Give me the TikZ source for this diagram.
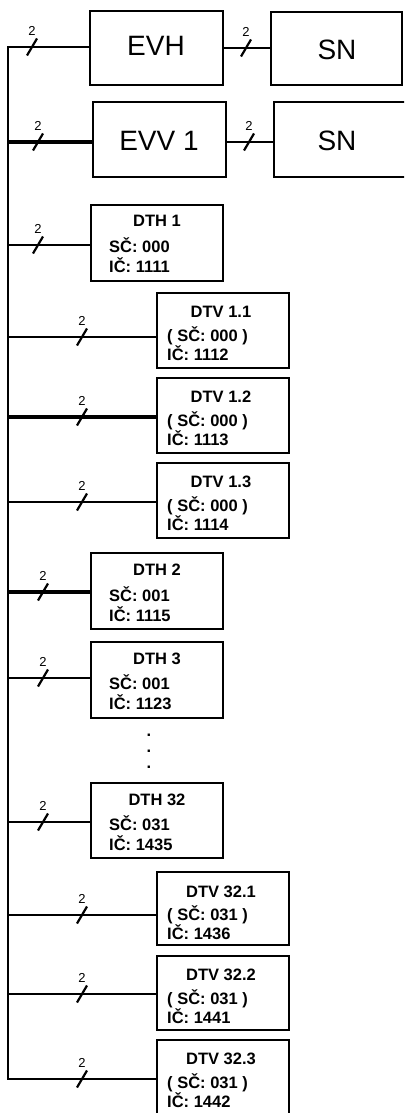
\documentclass[tikz,border=0pt]{standalone}
\usepackage{fontspec}
\setmainfont{Liberation Sans}
\begin{document}
\begin{tikzpicture}[x=1pt,y=-1pt,
  box/.style={draw, line width=2.4pt, rectangle, inner sep=0pt, outer sep=0pt, anchor=north west},
  big/.style={font=\fontsize{28}{30}\selectfont, anchor=base, inner sep=0pt},
  ttl/.style={font=\bfseries\fontsize{16.5}{18}\selectfont, anchor=base, inner sep=0pt},
  lin/.style={font=\bfseries\fontsize{16.5}{18}\selectfont, anchor=base west, inner sep=0pt},
  lbl/.style={font=\fontsize{13}{14}\selectfont, inner sep=0pt},
  wire/.style={line width=2.8pt},
  thinwire/.style={line width=1.8pt},
  thickwire/.style={line width=3.6pt},
  buswire/.style={line width=2.7pt},
  bundle/.pic={\draw[line width=2.2pt] (-5,8.5) -- (5,-8.5); \node[lbl] (-n) at (0,-16) {2};}
]
\useasboundingbox (0,0) rectangle (404,1113);
\begin{scope}
\clip (0,0) rectangle (404,1113);
% boxes
\node[box, minimum width=133pt, minimum height=74pt] (evh) at (90,11) {};
\node[box, minimum width=131pt, minimum height=73pt] (sn1) at (271,12) {};
\node[box, minimum width=133pt, minimum height=75pt] (evv) at (93,102) {};
\node[box, minimum width=133pt, minimum height=75pt] (sn2) at (274,102) {};
\node[box, minimum width=132pt, minimum height=76pt] (dth1) at (91,205) {};
\node[box, minimum width=132pt, minimum height=75pt] (dtv11) at (157,293) {};
\node[box, minimum width=132pt, minimum height=75pt] (dtv12) at (157,378) {};
\node[box, minimum width=132pt, minimum height=75pt] (dtv13) at (157,463) {};
\node[box, minimum width=132pt, minimum height=76pt] (dth2) at (91,553) {};
\node[box, minimum width=132pt, minimum height=76pt] (dth3) at (91,642) {};
\node[box, minimum width=132pt, minimum height=75pt] (dth32) at (91,783) {};
\node[box, minimum width=132pt, minimum height=73pt] (dtv321) at (157,872) {};
\node[box, minimum width=132pt, minimum height=74pt] (dtv322) at (157,956) {};
\node[box, minimum width=132pt, minimum height=76pt] (dtv323) at (157,1040) {};

% texts
\node[big] (tevh) at (156,56) {EVH};
\node[big] (tsn1) at (337,60) {SN};
\node[big] (tevv) at (159,150) {EVV 1};
\node[big] (tsn2) at (337,150) {SN};

\node[ttl] (t1a) at (157,226) {DTH 1};
\node[lin] (t1b) at (109,252) {SČ: 000};
\node[lin] (t1c) at (109,272) {IČ: 1111};

\node[ttl] (t2a) at (221,317) {DTV 1.1};
\node[lin] (t2b) at (167,341) {( SČ: 000 )};
\node[lin] (t2c) at (167,360) {IČ: 1112};

\node[ttl] (t3a) at (221,402) {DTV 1.2};
\node[lin] (t3b) at (167,426) {( SČ: 000 )};
\node[lin] (t3c) at (167,445) {IČ: 1113};

\node[ttl] (t4a) at (221,487) {DTV 1.3};
\node[lin] (t4b) at (167,511) {( SČ: 000 )};
\node[lin] (t4c) at (167,530) {IČ: 1114};

\node[ttl] (t5a) at (157,575) {DTH 2};
\node[lin] (t5b) at (109,601) {SČ: 001};
\node[lin] (t5c) at (109,621) {IČ: 1115};

\node[ttl] (t6a) at (157,664) {DTH 3};
\node[lin] (t6b) at (109,689) {SČ: 001};
\node[lin] (t6c) at (109,709) {IČ: 1123};

\node[ttl] (t7a) at (157,805) {DTH 32};
\node[lin] (t7b) at (109,830) {SČ: 031};
\node[lin] (t7c) at (109,850) {IČ: 1435};

\node[ttl] (t8a) at (221,897) {DTV 32.1};
\node[lin] (t8b) at (167,920) {( SČ: 031 )};
\node[lin] (t8c) at (167,939) {IČ: 1436};

\node[ttl] (t9a) at (221,980) {DTV 32.2};
\node[lin] (t9b) at (167,1004) {( SČ: 031 )};
\node[lin] (t9c) at (167,1023) {IČ: 1441};

\node[ttl] (t10a) at (221,1064) {DTV 32.3};
\node[lin] (t10b) at (167,1088) {( SČ: 031 )};
\node[lin] (t10c) at (167,1107) {IČ: 1442};

% dots
\node[ttl] (d1) at (149,736) {.};
\node[ttl] (d2) at (149,752) {.};
\node[ttl] (d3) at (149,768) {.};

% bus coordinates
\coordinate (r1) at (8,47);
\coordinate (r2) at (8,142);
\coordinate (r3) at (8,245);
\coordinate (r4) at (8,337);
\coordinate (r5) at (8,417);
\coordinate (r6) at (8,502);
\coordinate (r7) at (8,592);
\coordinate (r8) at (8,678);
\coordinate (r9) at (8,822);
\coordinate (r10) at (8,915);
\coordinate (r11) at (8,994);
\coordinate (r12) at (8,1079);
\coordinate (m1) at (246,48);
\coordinate (m2) at (249,142);

% bus
\draw[buswire, line join=miter] (r1 -| evh.west) -- (r1) -- (r12) -- (r12 -| dtv323.west);
\draw[thinwire] (r1) -- (r1 -| evh.west);
\draw[thickwire] (r2) -- (r2 -| evv.west);
\draw[wire] (r3) -- (r3 -| dth1.west);
\draw[wire] (r4) -- (r4 -| dtv11.west);
\draw[thickwire] (r5) -- (r5 -| dtv12.west);
\draw[wire] (r6) -- (r6 -| dtv13.west);
\draw[thickwire] (r7) -- (r7 -| dth2.west);
\draw[wire] (r8) -- (r8 -| dth3.west);
\draw[wire] (r9) -- (r9 -| dth32.west);
\draw[wire] (r10) -- (r10 -| dtv321.west);
\draw[wire] (r11) -- (r11 -| dtv322.west);
\draw[wire] (r12) -- (r12 -| dtv323.west);
\draw[wire] (m1 -| evh.east) -- (m1 -| sn1.west);
\draw[wire] (m2 -| evv.east) -- (m2 -| sn2.west);

% bundle marks
\pic (s1) at (32,47) {bundle};
\pic (s2) at (38,142) {bundle};
\pic (s3) at (38,245) {bundle};
\pic (s4) at (82,337) {bundle};
\pic (s5) at (82,417) {bundle};
\pic (s6) at (82,502) {bundle};
\pic (s7) at (43,592) {bundle};
\pic (s8) at (43,678) {bundle};
\pic (s9) at (43,822) {bundle};
\pic (s10) at (82,915) {bundle};
\pic (s11) at (82,994) {bundle};
\pic (s12) at (82,1079) {bundle};
\pic (s13) at (m1) {bundle};
\pic (s14) at (m2) {bundle};
\end{scope}
\end{tikzpicture}
\end{document}
